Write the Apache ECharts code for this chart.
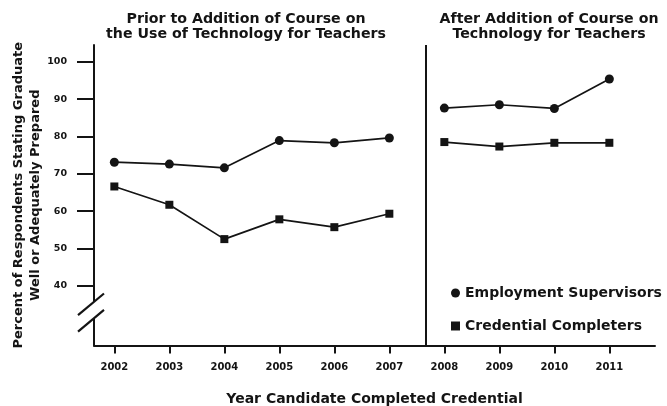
<!DOCTYPE html>
<html>
<head>
<meta charset="utf-8">
<script src="https://cdn.jsdelivr.net/npm/echarts@6/dist/echarts.min.js"></script>
<style>
  html, body { margin: 0; padding: 0; background: #fff; }
  #chart { width: 667px; height: 406px; }
</style>
</head>
<body>
<div id="chart"></div>
<script>
// Survey years, split by whether the technology course existed yet
const yearsBefore = [2002, 2003, 2004, 2005, 2006, 2007];
const yearsAfter = [2008, 2009, 2010, 2011];
const allYears = yearsBefore.concat(yearsAfter);

// Percent of respondents rating graduates well or adequately prepared
const supervisorsBefore = [73.1, 72.6, 71.6, 78.9, 78.3, 79.6];
const supervisorsAfter = [87.6, 88.5, 87.5, 95.4];
const completersBefore = [66.6, 61.7, 52.5, 57.8, 55.7, 59.3];
const completersAfter = [78.5, 77.3, 78.3, 78.3];

// Y tick labels
const yTicks = [40, 50, 60, 70, 80, 90, 100];

const panelTitles = [
  'Prior to Addition of Course on\nthe Use of Technology for Teachers',
  'After Addition of Course on\nTechnology for Teachers'
];
const seriesNames = ['Employment Supervisors', 'Credential Completers'];

// Course introduced between the 2007 and 2008 cohorts
const courseAdded = 2007.66;

const ink = '#141414';
const font = '"DejaVu Sans", "Liberation Sans", Arial, sans-serif';

function pairs(xs, ys) { return xs.map((x, i) => [x, ys[i]]); }

function lineSeries(name, symbol, size, xs, ys, extra) {
  return Object.assign({
    name: name,
    type: 'line',
    data: pairs(xs, ys),
    symbol: symbol,
    symbolSize: size,
    showAllSymbol: true,
    lineStyle: { color: ink, width: 1.7 },
    itemStyle: { color: ink, borderWidth: 0 },
    emphasis: { disabled: true },
    animation: false,
    z: 3
  }, extra || {});
}

const chart = echarts.init(document.getElementById('chart'), null, { renderer: 'canvas' });

const titleText = { fontFamily: font, fontSize: 14.2, fontWeight: 'bold', color: ink, lineHeight: 15 };

const option = {
  backgroundColor: '#fff',
  animation: false,
  textStyle: { fontFamily: font },
  title: [
    { text: panelTitles[0], left: 246, top: 12, padding: 0, textAlign: 'center', textStyle: titleText },
    { text: panelTitles[1], left: 549, top: 12, padding: 0, textAlign: 'center', textStyle: titleText }
  ],
  legend: {
    orient: 'vertical',
    left: 451,
    top: 286,
    padding: 0,
    itemGap: 19,
    itemWidth: 9,
    itemHeight: 9,
    selectedMode: false,
    data: [
      { name: seriesNames[0], icon: 'circle' },
      { name: seriesNames[1], icon: 'rect' }
    ],
    textStyle: { fontFamily: font, fontSize: 14, fontWeight: 'bold', color: ink }
  },
  grid: { left: 94, right: 12, top: 45, bottom: 60.5, containLabel: false, outerBoundsMode: 'none' },
  xAxis: {
    type: 'value',
    min: 2001.63,
    max: 2011.83,
    name: 'Year Candidate Completed Credential',
    nameLocation: 'middle',
    nameGap: 47,
    nameMoveOverlap: false,
    nameTextStyle: { fontFamily: font, fontSize: 14, fontWeight: 'bold', color: ink },
    axisLine: { show: true, onZero: false, lineStyle: { color: ink, width: 2 } },
    axisTick: { show: true, customValues: allYears, length: 8, lineStyle: { color: ink, width: 2 } },
    axisLabel: {
      customValues: allYears, margin: 17,
      formatter: v => String(v),
      fontFamily: font, fontSize: 10, fontWeight: 'bold', color: ink
    },
    splitLine: { show: false }
  },
  yAxis: {
    type: 'value',
    min: 24,
    max: 104.5,
    name: 'Percent of Respondents Stating Graduate\nWell or Adequately Prepared',
    nameLocation: 'middle',
    nameGap: 50,
    nameRotate: 90,
    nameMoveOverlap: false,
    nameTextStyle: { fontFamily: font, fontSize: 13, fontWeight: 'bold', color: ink, lineHeight: 17 },
    axisLine: { show: true, onZero: false, lineStyle: { color: ink, width: 2 } },
    axisTick: { show: true, customValues: yTicks, length: 17, lineStyle: { color: ink, width: 2 } },
    axisLabel: {
      customValues: yTicks, margin: 27,
      fontFamily: font, fontSize: 9.5, fontWeight: 'bold', color: ink
    },
    splitLine: { show: false }
  },
  series: [
    lineSeries(seriesNames[0], 'circle', 9, yearsBefore, supervisorsBefore, {
      markLine: {
        silent: true,
        symbol: 'none',
        label: { show: false },
        lineStyle: { color: ink, width: 2, type: 'solid' },
        data: [{ xAxis: courseAdded }]
      }
    }),
    lineSeries(seriesNames[0], 'circle', 9, yearsAfter, supervisorsAfter),
    lineSeries(seriesNames[1], 'rect', 8, yearsBefore, completersBefore),
    lineSeries(seriesNames[1], 'rect', 8, yearsAfter, completersAfter)
  ]
};

chart.setOption(option);

// Broken-axis marker on the y axis between 40 and the baseline
const axisX = chart.convertToPixel({ xAxisIndex: 0 }, 2001.63);
const gapTop = chart.convertToPixel({ yAxisIndex: 0 }, 35.7);
const gapBottom = chart.convertToPixel({ yAxisIndex: 0 }, 31.3);
const slash = (yCross) => ({
  type: 'line',
  shape: { x1: axisX - 16, y1: yCross + 13.3, x2: axisX + 10, y2: yCross - 8.3 },
  style: { stroke: ink, lineWidth: 2.2 },
  z: 10
});
chart.setOption({
  graphic: [
    {
      type: 'rect',
      shape: { x: axisX - 3, y: gapTop, width: 6, height: gapBottom - gapTop },
      style: { fill: '#fff' },
      z: 9
    },
    slash(gapTop),
    slash(gapBottom)
  ]
});
</script>
</body>
</html>
